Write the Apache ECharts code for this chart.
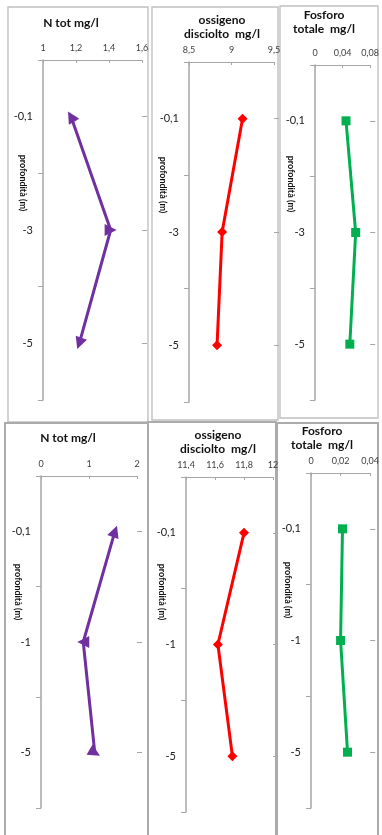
<!DOCTYPE html>
<html>
<head>
<meta charset="utf-8">
<script src="https://cdn.jsdelivr.net/npm/echarts@6/dist/echarts.min.js"></script>
<style>
  html, body { margin: 0; padding: 0; background: #fff; }
  #chart { width: 382px; height: 835px; }
</style>
</head>
<body>
<div id="chart"></div>
<script>
// Depth categories (m)
const depthTop = ['-0,1', '-3', '-5'];
const depthBottom = ['-0,1', '-1', '-5'];

// Measured values per depth
const nTotTop = [1.17, 1.41, 1.22];
const oxygenTop = [9.13, 8.89, 8.83];
const phosphorusTop = [0.045, 0.059, 0.0505];
const nTotBottom = [1.54, 0.88, 1.12];
const oxygenBottom = [11.8, 11.62, 11.72];
const phosphorusBottom = [0.0213, 0.020, 0.0247];

// Horizontal axis ticks
const nTotTopTicks = [1, 1.2, 1.4, 1.6];
const oxygenTopTicks = [8.5, 9, 9.5];
const phosphorusTopTicks = [0, 0.04, 0.08];
const nTotBottomTicks = [0, 1, 2];
const oxygenBottomTicks = [11.4, 11.6, 11.8, 12];
const phosphorusBottomTicks = [0, 0.02, 0.04];

// Panel titles
const titleNTot = 'N tot mg/l';
const titleOxygen = 'ossigeno\ndisciolto  mg/l';
const titlePhosphorus = 'Fosforo\ntotale  mg/l';
const depthName = 'profondità (m)';

const PURPLE = '#7030A0', RED = '#FF0000', GREEN = '#00B050';
const FONT = 'Lato, "Open Sans", sans-serif';

const panels = [
  { cats: depthTop, values: nTotTop, ticks: nTotTopTicks, title: titleNTot, color: PURPLE,
    symbol: 'triangle', size: 12, rot: [30, -90, 160],
    grid: { left: 43, top: 60, width: 99, height: 340 },
    box: [8, 7, 140, 415], boxStroke: ['#c0c0c0', 1.4], titlePos: [71, 23], namePos: [23, 183] },
  { cats: depthTop, values: oxygenTop, ticks: oxygenTopTicks, title: titleOxygen, color: RED,
    symbol: 'diamond', size: 10, rot: [0, 0, 0],
    grid: { left: 189, top: 62, width: 85, height: 340 },
    box: [152, 7, 126, 413], boxStroke: ['#c0c0c0', 1.4], titlePos: [222, 27], namePos: [163, 185] },
  { cats: depthTop, values: phosphorusTop, ticks: phosphorusTopTicks, title: titlePhosphorus, color: GREEN,
    symbol: 'rect', size: 9, rot: [0, 0, 0],
    grid: { left: 315, top: 65, width: 57, height: 335 },
    box: [280, 6, 98, 412], boxStroke: ['#c0c0c0', 1.4], titlePos: [324, 22], namePos: [291, 184] },
  { cats: depthBottom, values: nTotBottom, ticks: nTotBottomTicks, title: titleNTot, color: PURPLE,
    symbol: 'triangle', size: 12, rot: [-20, 90, -120],
    grid: { left: 41, top: 476, width: 96, height: 332 },
    box: [5, 423, 143, 420], boxStroke: ['#ababab', 2], titlePos: [68, 438], namePos: [18, 592] },
  { cats: depthBottom, values: oxygenBottom, ticks: oxygenBottomTicks, title: titleOxygen, color: RED,
    symbol: 'diamond', size: 10, rot: [0, 0, 0],
    grid: { left: 186, top: 477, width: 87, height: 335 },
    box: [148, 422, 128, 420], boxStroke: ['#ababab', 2], titlePos: [218, 442], namePos: [162, 592] },
  { cats: depthBottom, values: phosphorusBottom, ticks: phosphorusBottomTicks, title: titlePhosphorus, color: GREEN,
    symbol: 'rect', size: 9, rot: [0, 0, 0],
    grid: { left: 311, top: 473, width: 60, height: 335 },
    box: [277, 423, 101, 420], boxStroke: ['#ababab', 2], titlePos: [322, 438], namePos: [288, 590] }
];

const fmt = v => String(+(+v).toFixed(3)).replace('.', ',');

const grid = [], xAxis = [], yAxis = [], series = [], graphic = [];

panels.forEach((p, i) => {
  grid.push(Object.assign({ containLabel: false }, p.grid));
  const t = p.ticks;
  xAxis.push({
    type: 'value', gridIndex: i, position: 'top',
    min: t[0], max: t[t.length - 1], interval: t[1] - t[0],
    splitLine: { show: false },
    axisLine: { show: true, lineStyle: { color: '#a6a6a6', width: 1.2 } },
    axisTick: { show: true, inside: true, length: 3, lineStyle: { color: '#a6a6a6' } },
    axisLabel: { formatter: fmt, fontSize: 9, color: '#404040', fontFamily: FONT, margin: 7 }
  });
  // main depth axis: labels, ticks on category boundaries
  yAxis.push({
    type: 'category', gridIndex: i, inverse: true, data: p.cats, boundaryGap: true,
    axisLine: { show: true, lineStyle: { color: '#a6a6a6', width: 1.5 } },
    axisTick: { show: true, length: 5, alignWithLabel: false, lineStyle: { color: '#a6a6a6' } },
    axisLabel: { interval: 0, fontSize: 11, color: '#222', fontFamily: FONT, margin: 10 },
    splitLine: { show: false }
  });
  // companion axis drawing the ticks at each depth
  yAxis.push({
    type: 'category', gridIndex: i, inverse: true, data: p.cats, boundaryGap: true,
    axisLine: { show: false },
    axisTick: { show: true, length: 5, alignWithLabel: true, interval: 0, lineStyle: { color: '#a6a6a6' } },
    axisLabel: { show: false },
    splitLine: { show: false }
  });
  series.push({
    type: 'line', xAxisIndex: i, yAxisIndex: 2 * i,
    data: p.values.map((v, k) => ({ value: [v, p.cats[k]], symbolRotate: p.rot[k] })),
    symbol: p.symbol, symbolSize: p.size,
    lineStyle: { color: p.color, width: 3 },
    itemStyle: { color: p.color, borderWidth: 0 },
    emphasis: { disabled: true },
    animation: false
  });
  graphic.push({
    type: 'rect', silent: true, z: -1,
    shape: { x: p.box[0], y: p.box[1], width: p.box[2], height: p.box[3] },
    style: { fill: 'none', stroke: p.boxStroke[0], lineWidth: p.boxStroke[1] }
  });
  graphic.push({
    type: 'text', silent: true, x: p.titlePos[0], y: p.titlePos[1],
    style: { text: p.title, font: 'bold 12px ' + FONT, fill: '#111', align: 'center', verticalAlign: 'middle',
             textAlign: 'center', textVerticalAlign: 'middle', lineHeight: 14 }
  });
  graphic.push({
    type: 'text', silent: true, x: p.namePos[0], y: p.namePos[1], rotation: -Math.PI / 2,
    style: { text: depthName, font: 'bold 9px ' + FONT, fill: '#111', align: 'center', verticalAlign: 'middle',
             textAlign: 'center', textVerticalAlign: 'middle' }
  });
});

const chart = echarts.init(document.getElementById('chart'), null, { renderer: 'canvas' });
chart.setOption({ animation: false, grid, xAxis, yAxis, series, graphic });
</script>
</body>
</html>
